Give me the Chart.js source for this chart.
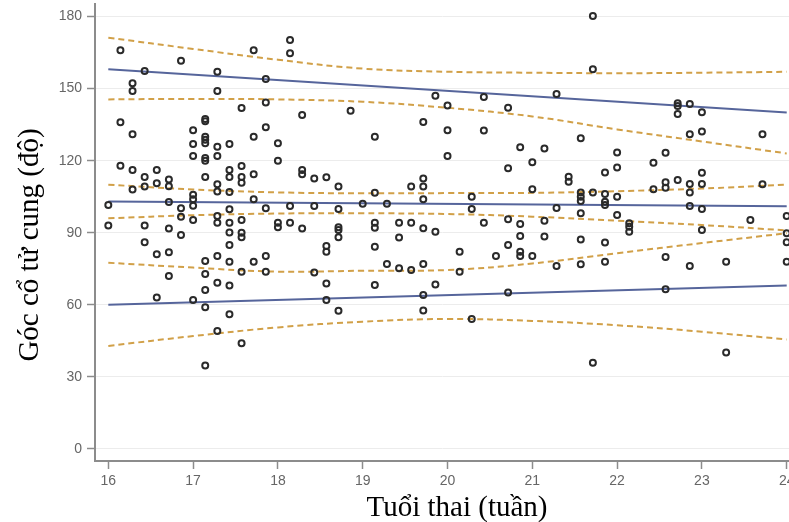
<!DOCTYPE html>
<html>
<head>
<meta charset="utf-8">
<script src="https://cdn.jsdelivr.net/npm/chart.js@4.4.1/dist/chart.umd.min.js"></script>
<style>
  html, body { margin: 0; padding: 0; background: #ffffff; }
  #wrap { width: 789px; height: 522px; }
</style>
</head>
<body>
<div id="wrap"><canvas id="chart" width="789" height="522"></canvas></div>
<script>
// Cervical angle (degrees) by gestational age; each entry is [day of the week, angle]
const week16 = [
  [0, 101.5], [0, 93.0],
  [1, 166.0], [1, 136.0], [1, 117.9],
  [2, 152.2], [2, 149.0], [2, 131.0], [2, 116.1], [2, 108.0],
  [3, 157.3], [3, 113.2], [3, 109.2], [3, 93.0], [3, 86.0],
  [4, 116.1], [4, 110.6], [4, 81.0], [4, 63.0],
  [5, 112.2], [5, 109.3], [5, 102.8], [5, 91.8], [5, 81.9], [5, 72.0],
  [6, 161.6], [6, 100.2], [6, 96.7], [6, 89.1]
];
const week17 = [
  [0, 132.7], [0, 126.9], [0, 121.9], [0, 105.8], [0, 103.9], [0, 101.2], [0, 95.3], [0, 62.0],
  [1, 137.3], [1, 136.4], [1, 130.0], [1, 128.7], [1, 127.2], [1, 121.1], [1, 120.0], [1, 113.2],
  [1, 78.2], [1, 72.8], [1, 66.2], [1, 59.0], [1, 34.7],
  [2, 157.0], [2, 149.0], [2, 125.8], [2, 121.9], [2, 110.2], [2, 107.2], [2, 97.0], [2, 94.2],
  [2, 80.3], [2, 69.2], [2, 49.1],
  [3, 126.9], [3, 116.1], [3, 113.2], [3, 107.0], [3, 99.8], [3, 94.2], [3, 90.1], [3, 84.9],
  [3, 77.9], [3, 68.0], [3, 56.1],
  [4, 141.9], [4, 117.8], [4, 113.2], [4, 110.8], [4, 95.3], [4, 90.0], [4, 88.1], [4, 73.8], [4, 44.0],
  [5, 166.0], [5, 130.0], [5, 114.3], [5, 103.9], [5, 77.9],
  [6, 154.0], [6, 144.2], [6, 133.9], [6, 100.2], [6, 80.3], [6, 73.8]
];
const week18 = [
  [0, 127.2], [0, 120.0], [0, 94.2], [0, 92.3],
  [1, 170.2], [1, 164.7], [1, 101.1], [1, 94.2],
  [2, 139.0], [2, 116.1], [2, 114.3], [2, 91.8],
  [3, 112.6], [3, 101.1], [3, 73.5],
  [4, 113.1], [4, 84.5], [4, 82.1], [4, 68.9], [4, 62.0],
  [5, 109.2], [5, 99.9], [5, 92.3], [5, 91.1], [5, 88.1], [5, 57.5],
  [6, 140.8]
];
const week19 = [
  [0, 102.1],
  [1, 130.0], [1, 106.6], [1, 94.2], [1, 92.1], [1, 84.2], [1, 68.2],
  [2, 102.1], [2, 77.0],
  [3, 94.2], [3, 88.0], [3, 75.2],
  [4, 109.2], [4, 94.2], [4, 74.5],
  [5, 136.1], [5, 112.6], [5, 109.2], [5, 103.9], [5, 91.9], [5, 77.0], [5, 64.1], [5, 57.6],
  [6, 147.0], [6, 90.4], [6, 68.5]
];
const week20 = [
  [0, 143.0], [0, 132.7], [0, 121.9],
  [1, 82.1], [1, 73.8],
  [2, 105.0], [2, 99.9], [2, 54.1],
  [3, 146.5], [3, 132.5], [3, 94.2],
  [4, 80.3],
  [5, 142.0], [5, 116.8], [5, 95.6], [5, 84.9], [5, 65.1],
  [6, 125.6], [6, 93.6], [6, 88.6], [6, 82.1], [6, 80.3]
];
const week21 = [
  [0, 119.3], [0, 108.1], [0, 80.3],
  [1, 125.1], [1, 95.0], [1, 88.4],
  [2, 147.7], [2, 100.3], [2, 76.2],
  [3, 113.3], [3, 111.2],
  [4, 129.3], [4, 106.7], [4, 105.0], [4, 103.2], [4, 98.1], [4, 87.2], [4, 76.9],
  [5, 180.2], [5, 158.0], [5, 106.7], [5, 35.9],
  [6, 115.1], [6, 106.1], [6, 102.9], [6, 101.5], [6, 85.9], [6, 77.9]
];
const week22 = [
  [0, 123.4], [0, 117.2], [0, 105.0], [0, 97.4],
  [1, 93.9], [1, 92.5], [1, 90.4],
  [3, 119.1], [3, 108.1],
  [4, 123.3], [4, 111.0], [4, 108.7], [4, 79.9], [4, 66.5],
  [5, 143.9], [5, 142.7], [5, 139.4], [5, 111.9],
  [6, 143.6], [6, 131.0], [6, 110.3], [6, 106.7], [6, 101.1], [6, 76.2]
];
const week23 = [
  [0, 140.1], [0, 132.1], [0, 115.0], [0, 110.3], [0, 99.9], [0, 91.1],
  [2, 77.9], [2, 40.2],
  [4, 95.3],
  [5, 131.0], [5, 110.2]
];
const week24 = [
  [0, 97.0], [0, 89.8], [0, 86.0], [0, 77.9]
];
const weeks = [16, 17, 18, 19, 20, 21, 22, 23, 24];
const weekPoints = [week16, week17, week18, week19, week20, week21, week22, week23, week24];

// Fitted percentile lines (5th, 50th, 95th)
const fitWeeks = [16, 24];
const fitUpper = [158, 140];
const fitMedian = [103, 101];
const fitLower = [60, 68];

// Confidence bands around each fitted line, read at whole weeks
const bandWeeks = [16, 17, 18, 19, 20, 21, 22, 23, 24];
const upperBandHi = [171.2, 166.5, 162.0, 158.3, 157.0, 156.6, 156.4, 156.6, 157.0];
const upperBandLo = [145.5, 145.7, 145.5, 144.5, 142.0, 138.4, 133.0, 128.0, 123.0];
const medianBandHi = [110.0, 108.0, 106.8, 106.4, 106.5, 106.6, 107.3, 108.4, 110.0];
const medianBandLo = [96.0, 97.3, 98.0, 98.1, 97.8, 96.7, 95.0, 93.2, 91.0];
const lowerBandHi = [77.5, 75.5, 73.8, 74.2, 74.5, 77.2, 81.5, 85.7, 89.8];
const lowerBandLo = [42.9, 47.0, 50.6, 53.0, 54.1, 53.3, 51.5, 48.8, 45.6];

const xTickLabels = ['16', '17', '18', '19', '20', '21', '22', '23', '24'];
const yTickValues = [0, 30, 60, 90, 120, 150, 180];
const xTitle = 'Tuổi thai (tuần)';
const yTitle = 'Góc cổ tử cung (độ)';

const scatterData = [];
weekPoints.forEach((list, i) => {
  list.forEach(([day, angle]) => scatterData.push({ x: weeks[i] + day / 7, y: angle }));
});
const pairUp = (xs, ys) => xs.map((x, i) => ({ x: x, y: ys[i] }));

const BLUE = '#56659b';
const GOLD = '#d1a048';
const AXIS = '#8c8c8c';
const TICK_FONT = { family: '"Liberation Sans", Arial, sans-serif', size: 14 };
const NO_PAD = () => ({ left: 0, top: 0, right: 0, bottom: 0 });

const fitLine = (ys) => ({
  type: 'line', data: pairUp(fitWeeks, ys), showLine: true, fill: false,
  borderColor: BLUE, borderWidth: 2, pointRadius: 0, tension: 0
});
const bandLine = (ys) => ({
  type: 'line', data: pairUp(bandWeeks, ys), showLine: true, fill: false,
  borderColor: GOLD, borderWidth: 2, borderDash: [6, 4], pointRadius: 0, tension: 0.4
});

const axisTitles = {
  id: 'axisTitles',
  afterDraw(chart) {
    const ctx = chart.ctx;
    ctx.save();
    ctx.fillStyle = '#000000';
    ctx.font = '29px "Liberation Serif", "Times New Roman", serif';
    ctx.textAlign = 'center';
    ctx.textBaseline = 'alphabetic';
    ctx.fillText(xTitle, 457, 516);
    ctx.translate(38, 245);
    ctx.rotate(-Math.PI / 2);
    ctx.fillText(yTitle, 0, 0);
    ctx.restore();
  }
};

new Chart(document.getElementById('chart'), {
  type: 'scatter',
  data: {
    datasets: [
      {
        data: scatterData, showLine: false,
        pointStyle: 'circle', pointRadius: 3, pointBorderWidth: 2,
        pointBackgroundColor: 'rgba(0,0,0,0)', pointBorderColor: '#2a2a2a',
        borderColor: '#2a2a2a', backgroundColor: 'rgba(0,0,0,0)'
      },
      fitLine(fitUpper), fitLine(fitMedian), fitLine(fitLower),
      bandLine(upperBandHi), bandLine(upperBandLo),
      bandLine(medianBandHi), bandLine(medianBandLo),
      bandLine(lowerBandHi), bandLine(lowerBandLo)
    ]
  },
  options: {
    responsive: false,
    animation: false,
    devicePixelRatio: 1,
    layout: { autoPadding: false, padding: { top: 4, right: 0, bottom: 0, left: 0 } },
    plugins: { legend: { display: false }, tooltip: { enabled: false } },
    scales: {
      x: {
        type: 'linear', min: 15.843, max: 24.027,
        afterBuildTicks: (s) => { s.ticks = weeks.map(v => ({ value: v })); },
        afterFit: (s) => {
          s.height = 61; s.paddingLeft = 0; s.paddingRight = 0;
          s.getPadding = NO_PAD;
        },
        grid: { drawOnChartArea: false, drawTicks: true, tickLength: 8, tickColor: AXIS, tickWidth: 1.5 },
        border: { display: true, color: AXIS, width: 2 },
        ticks: {
          color: '#666666', font: TICK_FONT, padding: 4, maxRotation: 0, autoSkip: false,
          callback: (v) => xTickLabels[weeks.indexOf(v)]
        }
      },
      y: {
        type: 'linear', min: -5, max: 185.2,
        afterBuildTicks: (s) => { s.ticks = yTickValues.map(v => ({ value: v })); },
        afterFit: (s) => {
          s.width = 95; s.paddingTop = 0; s.paddingBottom = 0;
          s.getPadding = NO_PAD;
        },
        grid: { color: '#ececec', lineWidth: 1, drawTicks: true, tickLength: 8, tickColor: AXIS, tickWidth: 1.5 },
        border: { display: true, color: AXIS, width: 2 },
        ticks: { color: '#666666', font: TICK_FONT, padding: 5, callback: (v) => String(v) }
      }
    }
  },
  plugins: [axisTitles]
});
</script>
</body>
</html>
